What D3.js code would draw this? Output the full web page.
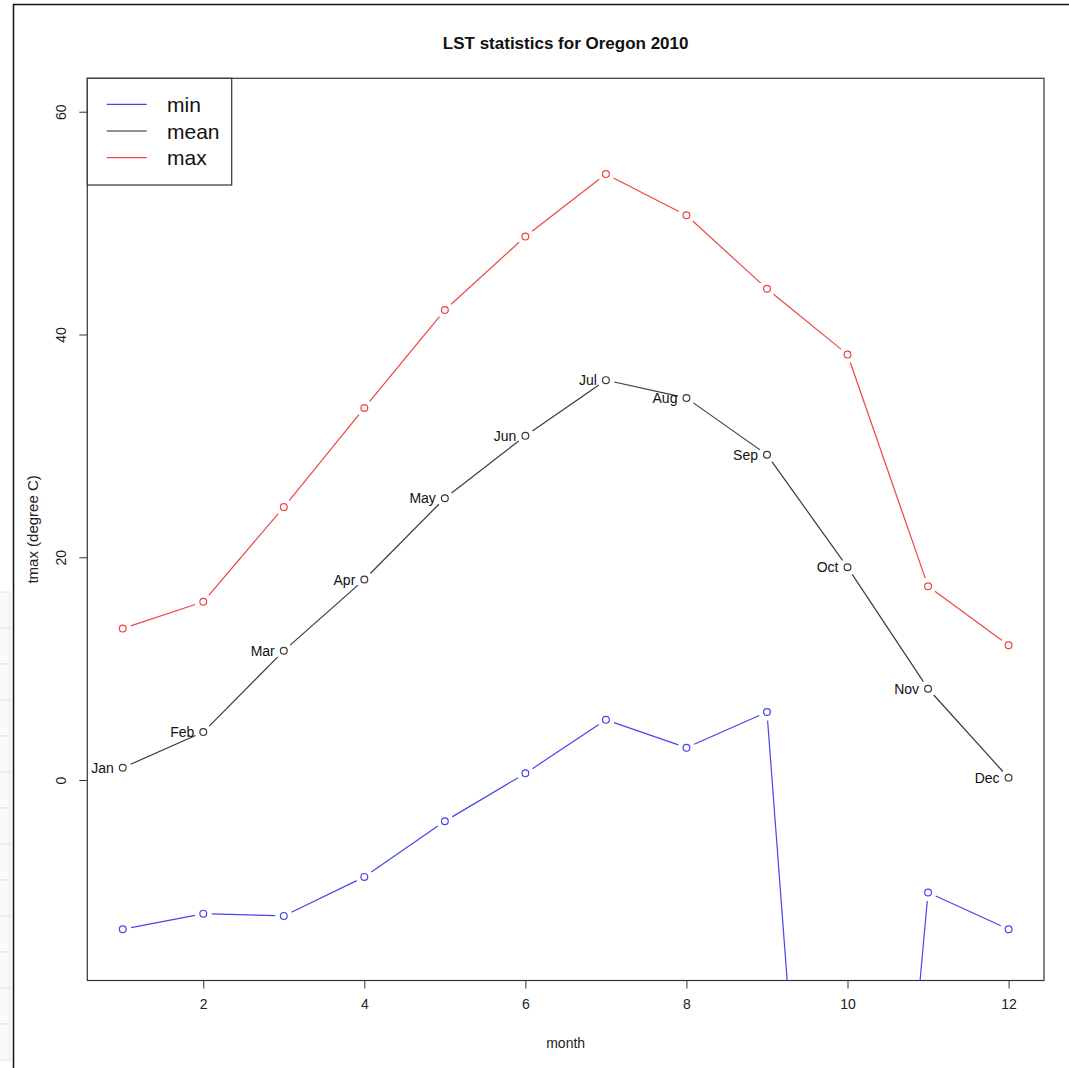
<!DOCTYPE html>
<html>
<head>
<meta charset="utf-8">
<script src="https://cdn.jsdelivr.net/npm/d3@7"></script>
<style>
  html, body { margin: 0; padding: 0; background: #fff; }
  svg { display: block; font-family: "Liberation Sans", Arial, Helvetica, sans-serif; }
</style>
</head>
<body>
<svg id="chart" width="1069" height="1068"></svg>
<script>
// Monthly land surface temperature statistics, Oregon 2010
const months = [1, 2, 3, 4, 5, 6, 7, 8, 9, 10, 11, 12];
const monthLabels = ["Jan", "Feb", "Mar", "Apr", "May", "Jun", "Jul", "Aug", "Sep", "Oct", "Nov", "Dec"];
const minValues  = [-13.4, -12.0, -12.2, -8.7, -3.7, 0.6, 5.4, 2.9, 6.1, -90.0, -10.1, -13.4];
const meanValues = [1.1, 4.3, 11.6, 18.0, 25.3, 30.9, 35.9, 34.3, 29.2, 19.1, 8.2, 0.2];
const maxValues  = [13.6, 16.0, 24.5, 33.4, 42.2, 48.8, 54.4, 50.7, 44.1, 38.2, 17.4, 12.1];
const xTicks = [2, 4, 6, 8, 10, 12];
const yTicks = [0, 20, 40, 60];
const legendLabels = ["min", "mean", "max"];

const svg = d3.select("#chart");

// window frame around the graphics device
svg.append("line").attr("x1", 13).attr("x2", 1069).attr("y1", 4.5).attr("y2", 4.5)
  .attr("stroke", "#111").attr("stroke-width", 1.5);
svg.append("line").attr("x1", 13.5).attr("x2", 13.5).attr("y1", 4).attr("y2", 1068)
  .attr("stroke", "#111").attr("stroke-width", 1.5);
// side panel cells
const side = svg.append("g");
for (let i = 0; i < 13; i++) {
  side.append("rect").attr("x", -1).attr("y", 592 + i * 36).attr("width", 11).attr("height", 36)
    .attr("fill", "#fafafa").attr("stroke", "#e2e2e2").attr("stroke-width", 1);
}

const plot = { left: 87.3, right: 1044, top: 78.3, bottom: 980.5 };

const x = d3.scaleLinear().domain([0.56, 12.44]).range([plot.left, plot.right]);
const y = d3.scaleLinear().domain([-18, 63]).range([plot.bottom, plot.top]);

svg.append("clipPath").attr("id", "plotClip")
  .append("rect").attr("x", plot.left).attr("y", plot.top)
  .attr("width", plot.right - plot.left).attr("height", plot.bottom - plot.top);

// axes
const xAxis = d3.axisBottom(x).tickValues(xTicks).tickSize(8).tickPadding(11).tickFormat(d3.format("d"));
const gx = svg.append("g").attr("transform", `translate(0,${plot.bottom})`).call(xAxis);
gx.select(".domain").remove();
gx.selectAll("line").attr("stroke", "#333");
gx.selectAll("text").attr("font-size", 14).attr("fill", "#222")
  .attr("font-family", "Liberation Sans, Arial, sans-serif");

const yAxis = d3.axisLeft(y).tickValues(yTicks).tickSize(8).tickFormat(d3.format("d"));
const gy = svg.append("g").attr("transform", `translate(${plot.left},0)`).call(yAxis);
gy.select(".domain").remove();
gy.selectAll("line").attr("stroke", "#333");
gy.selectAll("text")
  .attr("font-size", 14).attr("fill", "#222")
  .attr("font-family", "Liberation Sans, Arial, sans-serif")
  .attr("x", null).attr("dy", null)
  .attr("text-anchor", "middle")
  .attr("transform", "translate(-26,0) rotate(-90)")
  .attr("dominant-baseline", "central");

// plot box
svg.append("rect").attr("x", plot.left).attr("y", plot.top)
  .attr("width", plot.right - plot.left).attr("height", plot.bottom - plot.top)
  .attr("fill", "none").attr("stroke", "#333").attr("stroke-width", 1.2);

// titles
svg.append("text").attr("x", (plot.left + plot.right) / 2).attr("y", 49)
  .attr("text-anchor", "middle").attr("font-size", 17).attr("font-weight", "bold")
  .attr("fill", "#111").text("LST statistics for Oregon 2010");
svg.append("text").attr("x", (plot.left + plot.right) / 2).attr("y", 1048)
  .attr("text-anchor", "middle").attr("font-size", 14).attr("fill", "#222").text("month");
svg.append("text")
  .attr("transform", `translate(38,${(plot.top + plot.bottom) / 2}) rotate(-90)`)
  .attr("text-anchor", "middle").attr("font-size", 15).attr("fill", "#222").text("tmax (degree C)");

// point + line series with gaps around the symbols
const gap = 8.5;
function drawSeries(values, color) {
  const g = svg.append("g").attr("clip-path", "url(#plotClip)");
  const pts = months.map((m, i) => [x(m), y(values[i])]);
  for (let i = 0; i < pts.length - 1; i++) {
    const [x1, y1] = pts[i], [x2, y2] = pts[i + 1];
    const len = Math.hypot(x2 - x1, y2 - y1);
    if (len <= 2 * gap) continue;
    const ux = (x2 - x1) / len, uy = (y2 - y1) / len;
    g.append("line")
      .attr("x1", x1 + ux * gap).attr("y1", y1 + uy * gap)
      .attr("x2", x2 - ux * gap).attr("y2", y2 - uy * gap)
      .attr("stroke", color).attr("stroke-width", 1.2);
  }
  g.selectAll("circle.pt").data(pts).enter().append("circle")
    .attr("cx", d => d[0]).attr("cy", d => d[1]).attr("r", 3.4)
    .attr("fill", "none").attr("stroke", color).attr("stroke-width", 1.2);
}

drawSeries(minValues, "#4545ee");
drawSeries(meanValues, "#3a3a3a");
drawSeries(maxValues, "#ee4444");

// month labels on the mean series
svg.append("g").selectAll("text").data(months).enter().append("text")
  .attr("x", (m) => x(m) - 9)
  .attr("y", (m, i) => y(meanValues[i]))
  .attr("text-anchor", "end").attr("dominant-baseline", "central")
  .attr("font-size", 14).attr("fill", "#111")
  .text((m, i) => monthLabels[i]);

// legend
const legendColors = ["#4545ee", "#222222", "#ee4444"];
const lg = svg.append("g");
lg.append("rect").attr("x", plot.left).attr("y", plot.top)
  .attr("width", 144.4).attr("height", 106.7)
  .attr("fill", "#fff").attr("stroke", "#333").attr("stroke-width", 1.2);
legendLabels.forEach((lab, i) => {
  const ly = 104.3 + i * 26.7;
  lg.append("line").attr("x1", 106.7).attr("x2", 146.7).attr("y1", ly).attr("y2", ly)
    .attr("stroke", legendColors[i]).attr("stroke-width", 1.2);
  lg.append("text").attr("x", 167).attr("y", ly).attr("dominant-baseline", "central")
    .attr("font-size", 21).attr("fill", "#111").text(lab);
});
</script>
</body>
</html>
